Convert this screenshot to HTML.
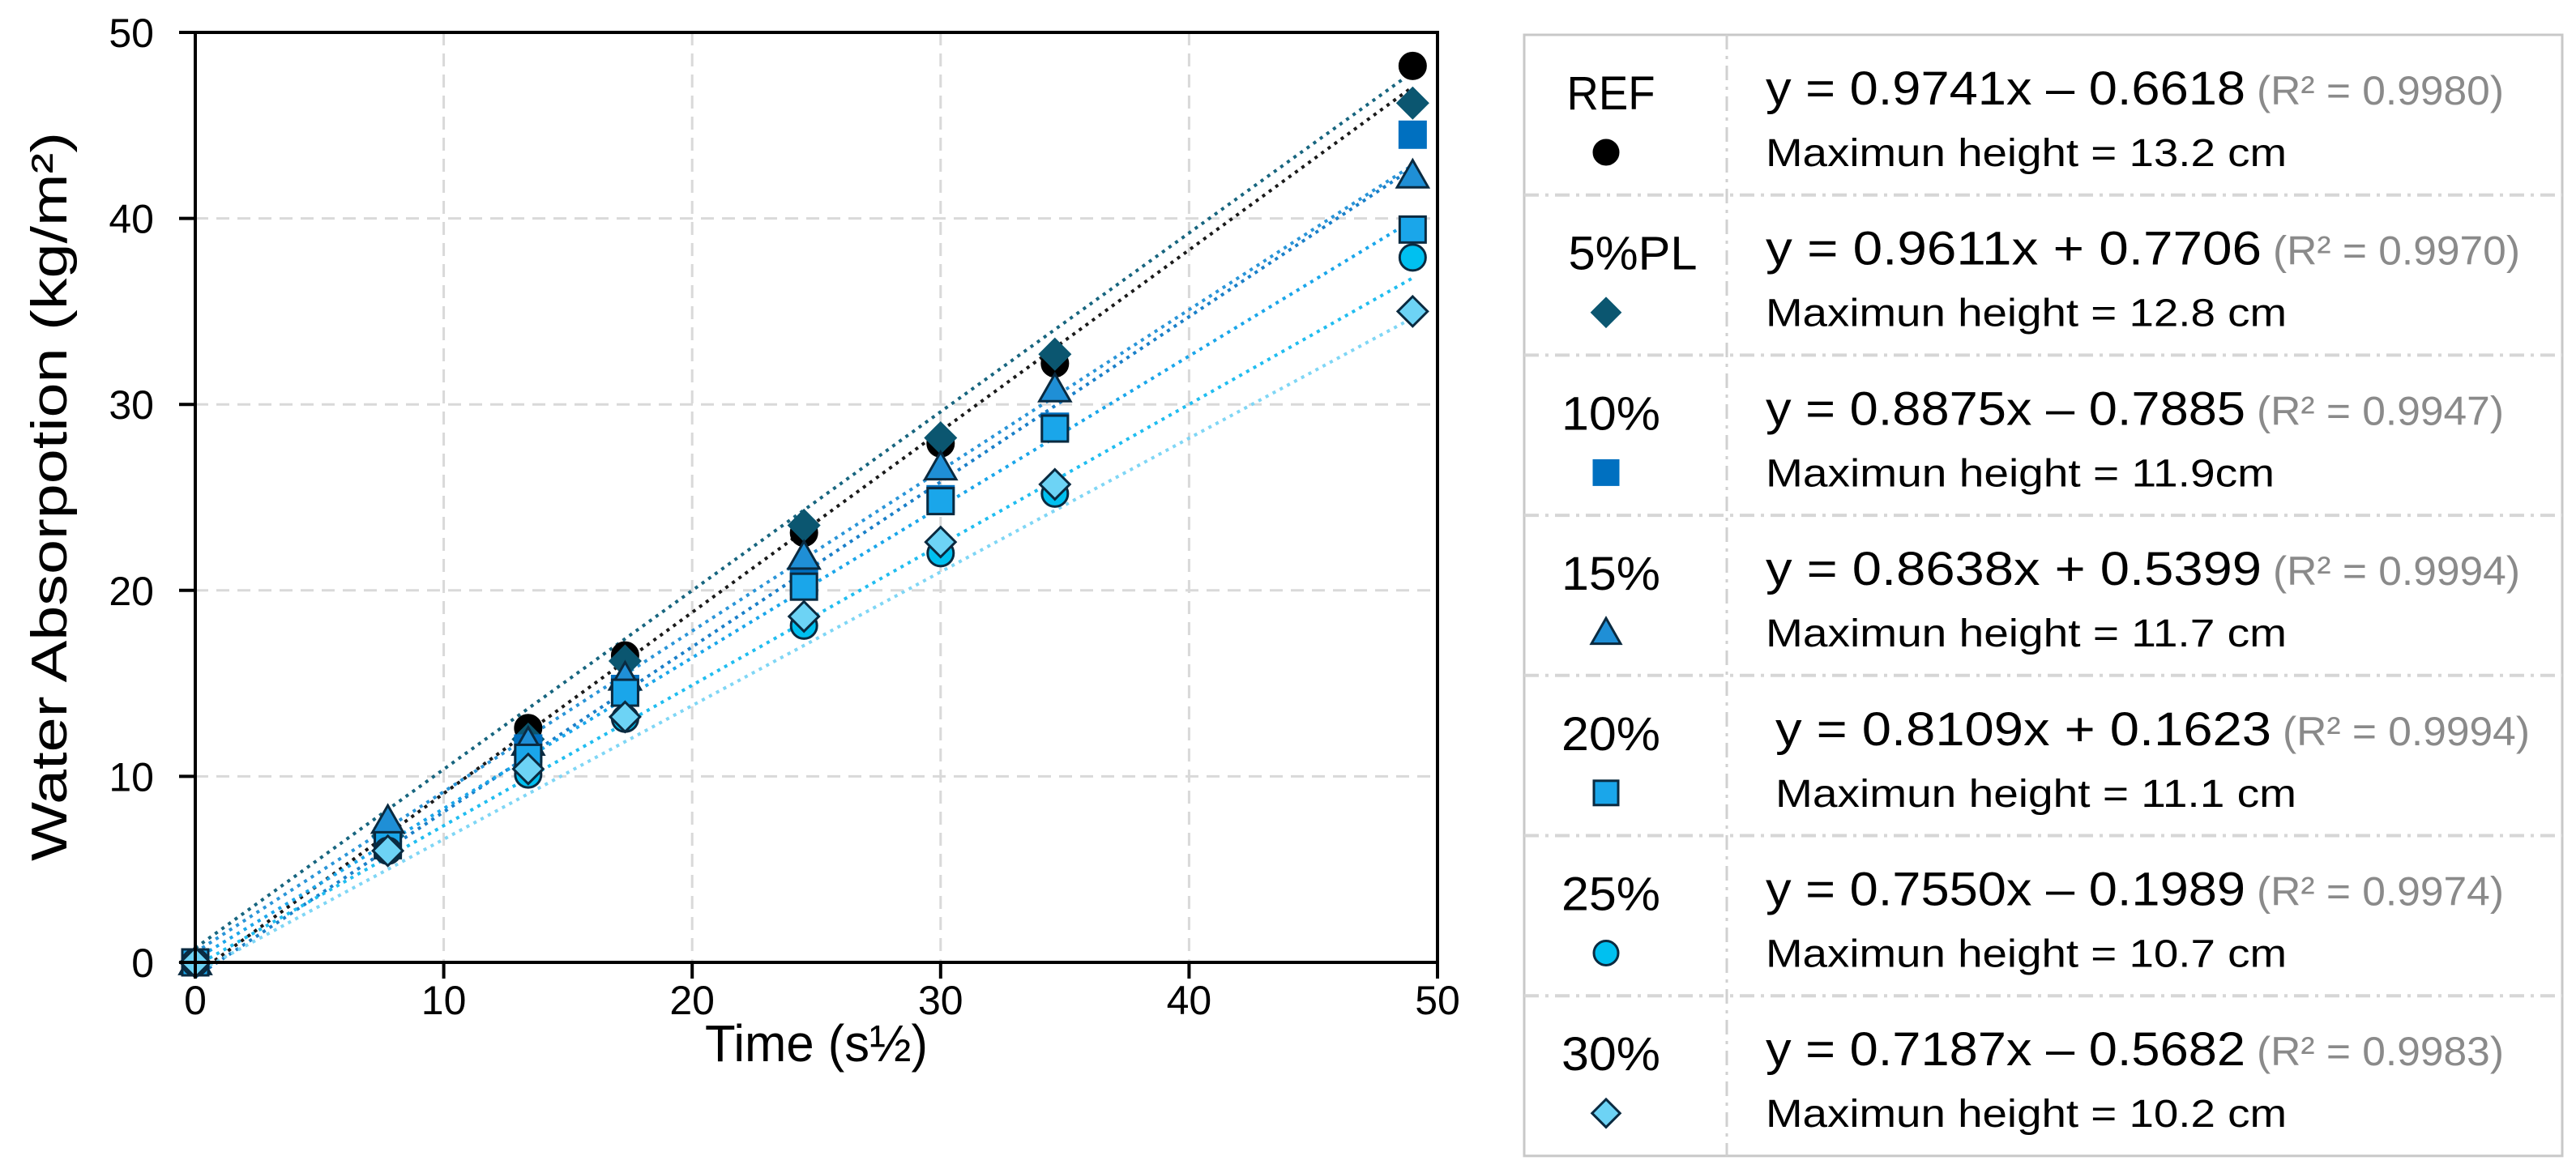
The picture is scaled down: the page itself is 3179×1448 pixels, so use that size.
<!DOCTYPE html>
<html><head><meta charset="utf-8"><style>
html,body{margin:0;padding:0;background:#fff;}
svg{display:block;font-family:"Liberation Sans",sans-serif;}
</style></head><body>
<svg id="chart" width="3179" height="1448" viewBox="0 0 3179 1448" xmlns="http://www.w3.org/2000/svg">
<g id="grid"></g>
<g id="trend"></g>
<g id="marks"></g>
<g id="axes"></g>
<g id="legend"></g>
</svg>
<script>
const xValues = [0, 7.75, 13.4, 17.3, 24.5, 30, 34.6, 49];
const seriesNames = ["REF", "5%PL", "10%", "15%", "20%", "25%", "30%"];
const refValues = [0, 6.5, 12.6, 16.5, 23.1, 27.9, 32.2, 48.2];
const pl5Values = [0, 6.8, 12.0, 16.2, 23.5, 28.2, 32.7, 46.2];
const p10Values = [0, 6.5, 11.5, 14.7, 20.5, 24.9, 28.8, 44.5];
const p15Values = [0, 7.6, 11.8, 15.3, 21.8, 26.6, 30.8, 42.3];
const p20Values = [0, 6.3, 11.0, 14.5, 20.2, 24.8, 28.7, 39.4];
const p25Values = [0, 6.0, 10.1, 13.1, 18.1, 22.0, 25.2, 37.9];
const p30Values = [0, 6.0, 10.4, 13.2, 18.6, 22.6, 25.7, 35.0];
const slopes = [0.9741, 0.9611, 0.8875, 0.8638, 0.8109, 0.7550, 0.7187];
const intercepts = [-0.6618, 0.7706, -0.7885, 0.5399, 0.1623, -0.1989, -0.5682];
const equations = ["y = 0.9741x – 0.6618","y = 0.9611x + 0.7706","y = 0.8875x – 0.7885","y = 0.8638x + 0.5399","y = 0.8109x + 0.1623","y = 0.7550x – 0.1989","y = 0.7187x – 0.5682"];
const r2Labels = ["(R² = 0.9980)","(R² = 0.9970)","(R² = 0.9947)","(R² = 0.9994)","(R² = 0.9994)","(R² = 0.9974)","(R² = 0.9983)"];
const heightLabels = ["Maximun height = 13.2 cm","Maximun height = 12.8 cm","Maximun height = 11.9cm","Maximun height = 11.7 cm","Maximun height = 11.1 cm","Maximun height = 10.7 cm","Maximun height = 10.2 cm"];
const xTicks = [0, 10, 20, 30, 40, 50];
const yTicks = [0, 10, 20, 30, 40, 50];

const allValues = [refValues, pl5Values, p10Values, p15Values, p20Values, p25Values, p30Values];
const shapes = ["circle","diamond","square","triangle","square","circle","diamond"];
const fills = ["#000000","#0b5670","#0070c0","#1f8fd6","#1aa6ea","#00c0f0","#6dd3f5"];
const strokes = ["#000000","#0b5670","#0070c0","#0a2a40","#0a2a40","#0a2a40","#0a2a40"];
const lineColors = ["#1a1a1a","#17657f","#1a7fc8","#2a95d8","#1aa6ea","#20bdf0","#7fd6f5"];

const NS = "http://www.w3.org/2000/svg";
const X0 = 241, X1 = 1774, Y0 = 1188, Y1 = 40;
const xs = v => X0 + (v / 50) * (X1 - X0);
const ys = v => Y0 - (v / 50) * (Y0 - Y1);
function mk(tag, attrs, parent) {
  const e = document.createElementNS(NS, tag);
  for (const k in attrs) e.setAttribute(k, attrs[k]);
  parent.appendChild(e);
  return e;
}
const grid = document.getElementById("grid");
const trend = document.getElementById("trend");
const marks = document.getElementById("marks");
const axes = document.getElementById("axes");
const legend = document.getElementById("legend");

xTicks.forEach(t => {
  if (t > 0 && t < 50) {
    const l = mk("line", {x1: xs(t), x2: xs(t), y1: Y1, y2: Y0, stroke: "#d9d9d9", "stroke-width": 3, "stroke-dasharray": "16 10"}, grid);
    
    
  }
  const tk = mk("line", {x1: xs(t), x2: xs(t), y1: Y0, y2: Y0 + 20, stroke: "#000", "stroke-width": 4}, axes);
  
  
  const tx = mk("text", {x: xs(t), y: 1252, "text-anchor": "middle", "font-size": 50, fill: "#000"}, axes);
  tx.textContent = t;
  
  
});
yTicks.forEach(t => {
  if (t > 0 && t < 50) {
    const l = mk("line", {x1: X0, x2: X1, y1: ys(t), y2: ys(t), stroke: "#d9d9d9", "stroke-width": 3, "stroke-dasharray": "16 10"}, grid);
    
    
  }
  const tk = mk("line", {x1: X0 - 20, x2: X0, y1: ys(t), y2: ys(t), stroke: "#000", "stroke-width": 4}, axes);
  
  
  const tx = mk("text", {x: 190, y: ys(t) + 18, "text-anchor": "end", "font-size": 50, fill: "#000"}, axes);
  tx.textContent = t;
  
  
});
const frame = mk("rect", {x: X0, y: Y1, width: X1 - X0, height: Y0 - Y1, fill: "none", stroke: "#000", "stroke-width": 4}, axes);


const xt = mk("text", {x: 870, y: 1310, "font-size": 64, textLength: 275, lengthAdjust: "spacingAndGlyphs", fill: "#000"}, axes);
xt.textContent = "Time (s½)";


const yt = mk("text", {x: 0, y: 0, "font-size": 62, textLength: 900, lengthAdjust: "spacingAndGlyphs", "text-anchor": "middle", fill: "#000", transform: "translate(82,613) rotate(-90)"}, axes);
yt.textContent = "Water Absorpotion (kg/m²)";



function marker(shape, cx, cy, fill, stroke, parent, r) {
  let e;
  if (shape === "circle") e = mk("circle", {cx, cy, r}, parent);
  else if (shape === "square") e = mk("rect", {x: cx - r, y: cy - r, width: 2 * r, height: 2 * r}, parent);
  else if (shape === "diamond") { const d = r * 1.15; e = mk("polygon", {points: `${cx},${cy-d} ${cx+d},${cy} ${cx},${cy+d} ${cx-d},${cy}`}, parent); }
  else { const d = r * 1.2; e = mk("polygon", {points: `${cx},${cy-d} ${cx+d},${cy+d*0.75} ${cx-d},${cy+d*0.75}`}, parent); }
  e.setAttribute("fill", fill);
  e.setAttribute("stroke", stroke);
  e.setAttribute("stroke-width", 3);
  return e;
}

slopes.forEach((m, i) => {
  const l = mk("line", {x1: xs(0), y1: ys(intercepts[i]), x2: xs(49), y2: ys(m * 49 + intercepts[i]), stroke: lineColors[i], "stroke-width": 4, "stroke-dasharray": "4 6"}, trend);
  
  
});
allValues.forEach((vals, i) => {
  vals.forEach((v, j) => {
    const e = marker(shapes[i], xs(xValues[j]), ys(v), fills[i], strokes[i], marks, 16);
    
    
  });
});

// legend
const LX0 = 1881, LX1 = 3162, LY0 = 43, RH = 197.7;
const box = mk("rect", {x: LX0, y: LY0, width: LX1 - LX0, height: RH * 7, fill: "#fff", stroke: "#c8c8c8", "stroke-width": 3}, legend);


const div = mk("line", {x1: 2131, x2: 2131, y1: LY0, y2: LY0 + RH * 7, stroke: "#d0d0d0", "stroke-width": 3, "stroke-dasharray": "18 8 4 8"}, legend);


const labW = [109, 159, 122, 122, 122, 122, 122];
seriesNames.forEach((n, i) => {
  const top = LY0 + i * RH;
  if (i > 0) {
    const s = mk("line", {x1: LX0, x2: LX1, y1: top, y2: top, stroke: "#d6d6d6", "stroke-width": 4, "stroke-dasharray": "18 8 4 8"}, legend);
    
    
  }
  const cx = i === 1 ? 2015 : 1988;
  const lab = mk("text", {x: cx, y: top + 92, "font-size": 58, "text-anchor": "middle", textLength: labW[i], lengthAdjust: "spacingAndGlyphs", fill: "#000"}, legend);
  lab.textContent = n;
  
  
  const mm = marker(shapes[i], 1982, top + 145, fills[i], strokes[i], legend, 15);
  
  
  const ox = i === 4 ? 12 : 0;
  const w = equations[i].includes("+") ? 612 : 592;
  const eq = mk("text", {x: 2179 + ox, y: top + 86, "font-size": 58, textLength: w, lengthAdjust: "spacingAndGlyphs", fill: "#000"}, legend);
  eq.textContent = equations[i];
  
  
  const r2 = mk("text", {x: 2179 + ox + w + 14, y: top + 86, "font-size": 50, textLength: 305, lengthAdjust: "spacingAndGlyphs", fill: "#8a8a8a"}, legend);
  r2.textContent = r2Labels[i];
  
  
  const hw = i === 2 ? 628 : 643;
  const h = mk("text", {x: 2179 + ox, y: top + 162, "font-size": 48, textLength: hw, lengthAdjust: "spacingAndGlyphs", fill: "#000"}, legend);
  h.textContent = heightLabels[i];
  
  
});
</script>
</body></html>
